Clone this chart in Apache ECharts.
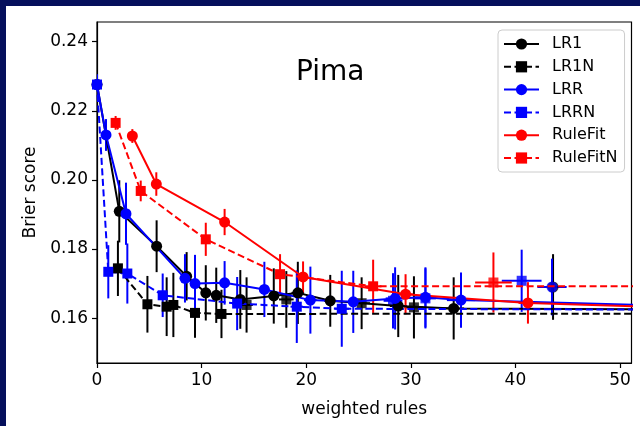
<!DOCTYPE html>
<html><head><meta charset="utf-8">
<script src="https://cdn.jsdelivr.net/npm/echarts@6/dist/echarts.min.js"></script>
<style>html,body{margin:0;padding:0;background:#fff}#c{width:640px;height:426px}</style>
</head><body><div id="c"></div>
<script>
// ---- data (x = weighted rules, y = Brier score, ex/ey = error half-widths) ----
const seriesNames = ['LR1', 'LR1N', 'LRR', 'LRRN', 'RuleFit', 'RuleFitN'];
const xTicks = [0, 10, 20, 30, 40, 50];
const yTicks = [0.16, 0.18, 0.20, 0.22, 0.24];

const lr1X  = [0, 2.13, 5.7, 8.57, 10.4, 11.4, 13.7, 16.9, 19.2, 22.3, 28.8, 34.1, 60];
const lr1Y  = [0.2276, 0.1909, 0.1808, 0.1721, 0.1673, 0.1666, 0.1654, 0.1664, 0.1673, 0.1650, 0.1635, 0.1628, 0.1624];
const lr1EY = [0, 0.009, 0.0075, 0.007, 0.008, 0.008, 0.0085, 0.008, 0.009, 0.0075, 0.009, 0.009, 0];
const lr1EX = [0, 0.3, 0.3, 0.4, 0.4, 0.4, 0.5, 0.5, 0.6, 0.6, 0.8, 1.0, 0];
const lr1IsoX = [43.6], lr1IsoY = [0.1690], lr1IsoEY = [0.0095], lr1IsoEX = [1.0];

const lr1nX  = [2.0, 4.82, 6.66, 7.3, 9.37, 11.9, 60];
const lr1nY  = [0.1744, 0.1640, 0.1633, 0.1638, 0.1615, 0.1612, 0.1613];
const lr1nEY = [0.008, 0.0082, 0.0085, 0.0093, 0.0072, 0.007, 0];
const lr1nEX = [0.3, 0.4, 0.4, 0.4, 0.5, 0.5, 0];
const lr1nIsoX = [14.3, 18.1, 25.3, 30.3], lr1nIsoY = [0.1638, 0.1654, 0.1643, 0.1631];
const lr1nIsoEY = [0.008, 0.0082, 0.0075, 0.009], lr1nIsoEX = [0.6, 0.7, 0.8, 0.9];

const lrrX  = [0, 0.86, 2.77, 8.41, 9.37, 12.2, 16.0, 20.4, 24.5, 28.5, 31.4, 34.8, 60];
const lrrY  = [0.2276, 0.2130, 0.1902, 0.1715, 0.1700, 0.1702, 0.1683, 0.1652, 0.1647, 0.1657, 0.1660, 0.1652, 0.1632];
const lrrEY = [0, 0.0046, 0.009, 0.007, 0.0083, 0.0063, 0.008, 0.0097, 0.009, 0.009, 0.0087, 0.008, 0];
const lrrEX = [0, 0.3, 0.3, 0.4, 0.4, 0.5, 0.5, 0.6, 0.7, 0.9, 1.0, 1.35, 0];
const lrrIsoX = [43.5], lrrIsoY = [0.1690], lrrIsoEY = [0.0082], lrrIsoEX = [1.4];

const lrrnX  = [0, 1.08, 2.9, 6.28, 13.4, 19.1, 23.4, 60];
const lrrnY  = [0.2276, 0.1734, 0.1729, 0.1666, 0.1642, 0.1633, 0.1627, 0.1624];
const lrrnEY = [0.003, 0.0077, 0.0087, 0.0063, 0.0077, 0.0105, 0.011, 0];
const lrrnEX = [0.1, 0.3, 0.3, 0.4, 0.5, 0.6, 0.7, 0];
const lrrnIsoX = [28.3, 31.4, 40.6], lrrnIsoY = [0.1650, 0.1657, 0.1708];
const lrrnIsoEY = [0.008, 0.0087, 0.009], lrrnIsoEX = [0.9, 1.0, 1.9];

const rfX  = [3.38, 5.67, 12.2, 19.7, 29.5, 41.2, 60];
const rfY  = [0.2127, 0.1988, 0.1878, 0.1719, 0.1669, 0.1644, 0.1626];
const rfEY = [0.002, 0.0034, 0.0038, 0.0045, 0.0058, 0.006, 0];
const rfEX = [0.2, 0.3, 0.4, 0.5, 0.7, 0.9, 0];

const rfnX  = [1.78, 4.18, 10.4, 17.5, 26.4, 60];
const rfnY  = [0.2165, 0.1968, 0.1828, 0.1727, 0.1692, 0.1692];
const rfnEY = [0.002, 0.003, 0.0048, 0.0058, 0.0077, 0];
const rfnEX = [0.2, 0.3, 0.4, 0.5, 0.8, 0];
const rfnIsoX = [37.9], rfnIsoY = [0.1703], rfnIsoEY = [0.0087], rfnIsoEX = [1.75];

// ---- building ----
const FONT = 'DejaVu Sans';
const specs = [
  {name: 'LR1', color: '#000000', dash: 'solid', sym: 'circle', x: lr1X, y: lr1Y, ex: lr1EX, ey: lr1EY,
   iso: {x: lr1IsoX, y: lr1IsoY, ex: lr1IsoEX, ey: lr1IsoEY}},
  {name: 'LR1N', color: '#000000', dash: [7, 3.5], sym: 'rect', x: lr1nX, y: lr1nY, ex: lr1nEX, ey: lr1nEY,
   iso: {x: lr1nIsoX, y: lr1nIsoY, ex: lr1nIsoEX, ey: lr1nIsoEY}},
  {name: 'LRR', color: '#0000ff', dash: 'solid', sym: 'circle', x: lrrX, y: lrrY, ex: lrrEX, ey: lrrEY,
   iso: {x: lrrIsoX, y: lrrIsoY, ex: lrrIsoEX, ey: lrrIsoEY}},
  {name: 'LRRN', color: '#0000ff', dash: [7, 3.5], sym: 'rect', x: lrrnX, y: lrrnY, ex: lrrnEX, ey: lrrnEY,
   iso: {x: lrrnIsoX, y: lrrnIsoY, ex: lrrnIsoEX, ey: lrrnIsoEY}},
  {name: 'RuleFit', color: '#ff0000', dash: 'solid', sym: 'circle', x: rfX, y: rfY, ex: rfEX, ey: rfEY, iso: null},
  {name: 'RuleFitN', color: '#ff0000', dash: [7, 3.5], sym: 'rect', x: rfnX, y: rfnY, ex: rfnEX, ey: rfnEY,
   iso: {x: rfnIsoX, y: rfnIsoY, ex: rfnIsoEX, ey: rfnIsoEY}}
];

function errSeries(name, color, xs, ys, exs, eys) {
  const data = [];
  xs.forEach((x, i) => { if (eys[i] > 0 || exs[i] > 0) data.push([x, ys[i], exs[i], eys[i]]); });
  return {
    type: 'custom', name: name + '_err', clip: true, silent: true,
    data: data, encode: {x: 0, y: 1},
    renderItem: function (params, api) {
      const x = api.value(0), y = api.value(1), ex = api.value(2), ey = api.value(3);
      const c = api.coord([x, y]);
      const t = api.coord([x, y + ey]), b = api.coord([x, y - ey]);
      const l = api.coord([x - ex, y]), r = api.coord([x + ex, y]);
      return {type: 'group', children: [
        {type: 'line', shape: {x1: c[0], y1: t[1], x2: c[0], y2: b[1]}, style: {stroke: color, lineWidth: 2}},
        {type: 'line', shape: {x1: l[0], y1: c[1], x2: r[0], y2: c[1]}, style: {stroke: color, lineWidth: 2}}
      ]};
    }
  };
}

const series = [];
specs.forEach(s => {
  series.push(errSeries(s.name, s.color, s.x, s.y, s.ex, s.ey));
  if (s.iso) series.push(errSeries(s.name + 'iso', s.color, s.iso.x, s.iso.y, s.iso.ex, s.iso.ey));
  series.push({
    type: 'line', name: s.name, clip: true,
    data: s.x.map((x, i) => (x > 51.1 ? {value: [x, s.y[i]], symbol: 'none'} : [x, s.y[i]])),
    symbol: s.sym, symbolSize: s.sym === 'rect' ? 10 : 11,
    itemStyle: {color: s.color},
    lineStyle: {color: s.color, width: 2, type: s.dash},
    showSymbol: true, animation: false
  });
  if (s.iso) series.push({
    type: 'scatter', name: s.name + '_iso',
    data: s.iso.x.map((x, i) => [x, s.iso.y[i]]),
    symbol: s.sym, symbolSize: s.sym === 'rect' ? 10 : 11,
    itemStyle: {color: s.color}, animation: false
  });
});

const chart = echarts.init(document.getElementById('c'), null, {renderer: 'canvas'});
chart.setOption({
  animation: false,
  backgroundColor: '#ffffff',
  textStyle: {fontFamily: FONT},
  title: {text: 'Pima', left: 291, top: 54,
    textStyle: {fontFamily: FONT, fontSize: 28, fontWeight: 'normal', color: '#000'}},
  graphic: [
    {type: 'rect', left: 0, top: 0, shape: {width: 640, height: 6}, style: {fill: '#050f5c'}, z: 100},
    {type: 'rect', left: 0, top: 0, shape: {width: 6, height: 426}, style: {fill: '#050f5c'}, z: 100}
  ],
  grid: {left: 97, top: 22, right: 8.5, bottom: 63, show: true, borderColor: '#000', borderWidth: 1.2, backgroundColor: 'transparent'},
  legend: {
    data: seriesNames, orient: 'vertical', left: 498, top: 30,
    itemWidth: 35, itemHeight: 14, itemGap: 6.8,
    padding: [6, 7, 6, 5],
    borderColor: '#cccccc', borderWidth: 1, borderRadius: 4, backgroundColor: 'rgba(255,255,255,0.8)',
    textStyle: {fontFamily: FONT, fontSize: 16, color: '#000', padding: [0, 0, 0, 8]},
    selectedMode: false
  },
  xAxis: {
    type: 'value', min: 0, max: 51.1,
    name: 'weighted rules', nameLocation: 'middle', nameGap: 38,
    nameTextStyle: {fontFamily: FONT, fontSize: 17, color: '#000'},
    axisLine: {show: true, onZero: false, lineStyle: {color: '#000', width: 1.2}},
    axisTick: {show: true, inside: false, length: 5, customValues: xTicks, lineStyle: {color: '#000', width: 1.2}},
    axisLabel: {show: true, customValues: xTicks, margin: 9, fontFamily: FONT, fontSize: 17, color: '#000'},
    splitLine: {show: false}
  },
  yAxis: {
    type: 'value', min: 0.147, max: 0.2457,
    name: 'Brier score', nameLocation: 'middle', nameGap: 58, nameRotate: 90,
    nameTextStyle: {fontFamily: FONT, fontSize: 17, color: '#000'},
    axisLine: {show: true, onZero: false, lineStyle: {color: '#000', width: 1.2}},
    axisTick: {show: true, inside: false, length: 5, customValues: yTicks, lineStyle: {color: '#000', width: 1.2}},
    axisLabel: {show: true, customValues: yTicks, margin: 9, fontFamily: FONT, fontSize: 17, color: '#000',
      formatter: v => v.toFixed(2)},
    splitLine: {show: false}
  },
  series: series
});
</script></body></html>
